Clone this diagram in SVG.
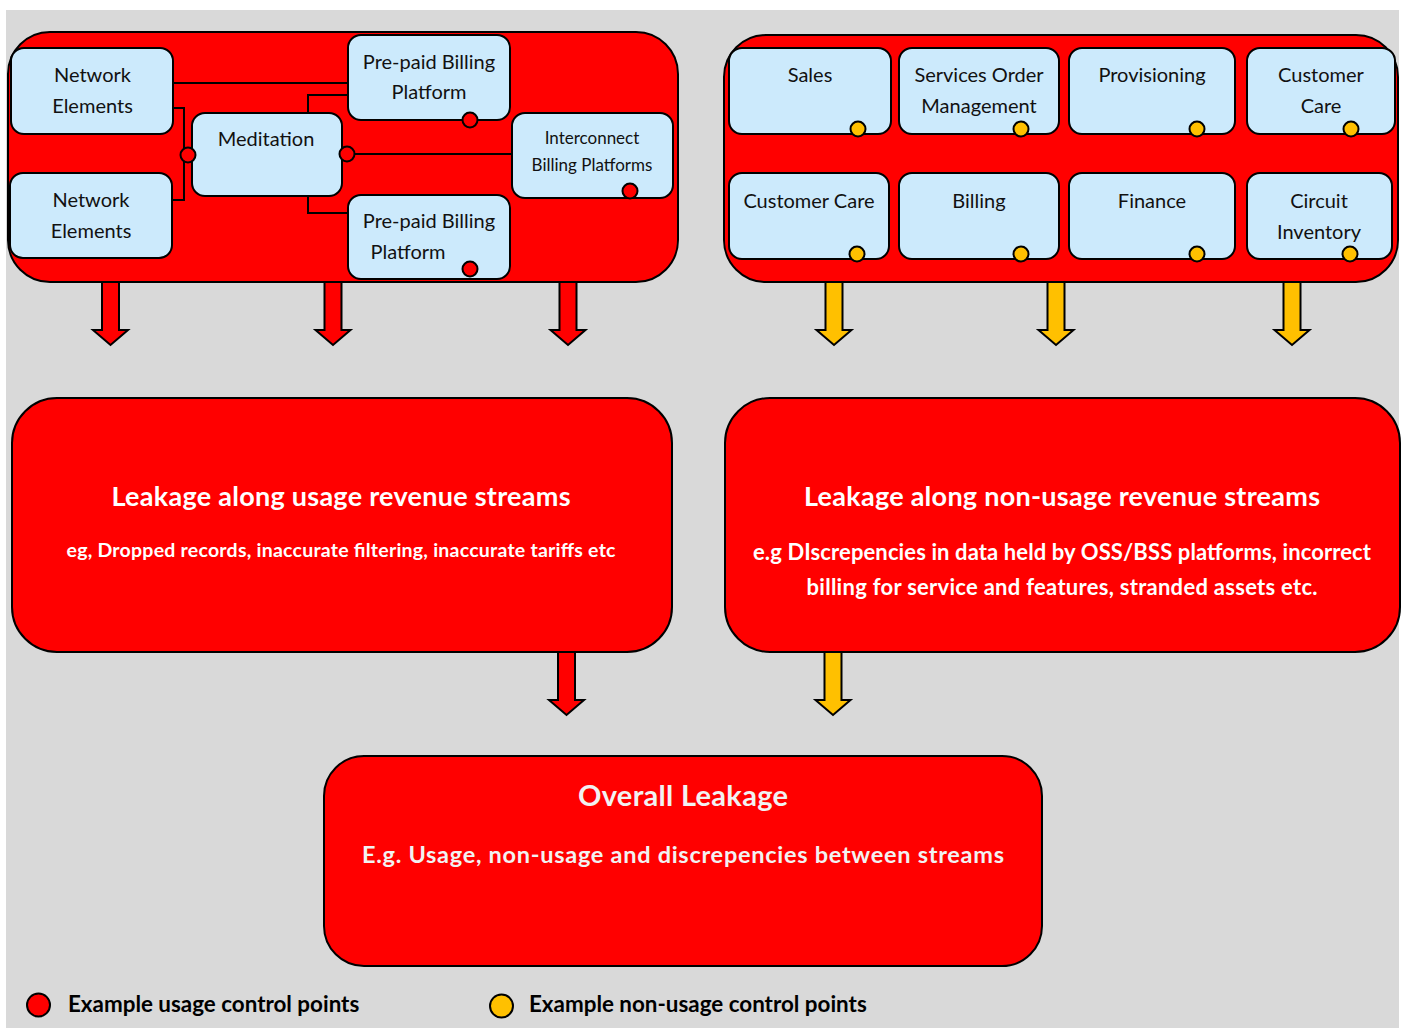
<svg xmlns="http://www.w3.org/2000/svg" width="1405" height="1028" viewBox="0 0 1405 1028">
<style>
.bg{fill:#d9d9d9}
.cont{fill:#ff0000;stroke:#000;stroke-width:2}
.node{fill:#cceafc;stroke:#000;stroke-width:2}
.big{fill:#ff0000;stroke:#000;stroke-width:2}
.ln{fill:none;stroke:#000;stroke-width:2}
.cr{fill:#ff0000;stroke:#000;stroke-width:2}
.cy{fill:#ffc000;stroke:#000;stroke-width:2}
.ar{fill:#ff0000;stroke:#000;stroke-width:2;stroke-linejoin:miter}
.ay{fill:#ffc000;stroke:#000;stroke-width:2;stroke-linejoin:miter}
.t{font-family:Lato,"Open Sans","Liberation Sans",sans-serif;font-size:20px;fill:#111;text-anchor:middle}
.ts{font-family:Lato,"Open Sans","Liberation Sans",sans-serif;font-size:17px;fill:#111;text-anchor:middle}
.h{font-family:Lato,"Open Sans","Liberation Sans",sans-serif;font-weight:bold;fill:#fff;text-anchor:middle}
.hg{fill:#f2f2f2}
.lg{font-family:Lato,"Open Sans","Liberation Sans",sans-serif;font-weight:bold;font-size:22.4px;fill:#000}
</style>
<defs>
<path id="arr" d="M-8.5,0 L8.5,0 L8.5,49 L17.5,49 L0,64 L-17.5,49 L-8.5,49 Z"/>
</defs>
<rect class="bg" x="6" y="10" width="1393" height="1018"/>

<g id="arrows">
<use href="#arr" class="ar" x="110.5" y="281"/>
<use href="#arr" class="ar" x="333" y="281"/>
<use href="#arr" class="ar" x="568" y="281"/>
<use href="#arr" class="ay" x="834" y="281"/>
<use href="#arr" class="ay" x="1056" y="281"/>
<use href="#arr" class="ay" x="1292" y="281"/>
<use href="#arr" class="ar" x="566.5" y="651"/>
<use href="#arr" class="ay" x="833" y="651"/>
</g>

<g id="usage-group">
<rect class="cont" x="8" y="32" width="670" height="250" rx="42"/>
</g>
<g id="nonusage-group">
<rect class="cont" x="724" y="35" width="674" height="247" rx="42"/>
</g>

<g id="connectors">
<path class="ln" d="M173,83 H348"/>
<path class="ln" d="M173,108 H184 V200 H172"/>
<path class="ln" d="M308,113 V95 H348"/>
<path class="ln" d="M308,196 V213 H348"/>
<path class="ln" d="M347,154 H512"/>
</g>

<g id="network-elements-1">
<rect class="node" x="11" y="48" width="162" height="86" rx="13"/>
<text class="t" x="92.5" y="82">Network</text>
<text class="t" x="92.5" y="113">Elements</text>
</g>
<g id="network-elements-2">
<rect class="node" x="10" y="173" width="162" height="85" rx="13"/>
<text class="t" x="91" y="207">Network</text>
<text class="t" x="91" y="238">Elements</text>
</g>
<g id="meditation">
<rect class="node" x="192" y="113" width="150" height="83" rx="13"/>
<text class="t" x="266" y="146">Meditation</text>
<circle class="cr" cx="188" cy="155" r="7.5"/>
<circle class="cr" cx="347" cy="154" r="7.5"/>
</g>
<g id="prepaid-1">
<rect class="node" x="348" y="35" width="162" height="85" rx="13"/>
<text class="t" x="429" y="69">Pre-paid Billing</text>
<text class="t" x="429" y="99">Platform</text>
<circle class="cr" cx="470" cy="120" r="7.5"/>
</g>
<g id="interconnect">
<rect class="node" x="512" y="113" width="161" height="85" rx="13"/>
<text class="ts" x="592" y="144">Interconnect</text>
<text class="ts" x="592" y="171">Billing Platforms</text>
<circle class="cr" cx="630" cy="191" r="7.5"/>
</g>
<g id="prepaid-2">
<rect class="node" x="348" y="195" width="162" height="84" rx="13"/>
<text class="t" x="429" y="228">Pre-paid Billing</text>
<text class="t" x="408" y="259">Platform</text>
<circle class="cr" cx="470" cy="269" r="7.5"/>
</g>

<g id="sales">
<rect class="node" x="729" y="48" width="162" height="86" rx="13"/>
<text class="t" x="810" y="82">Sales</text>
<circle class="cy" cx="858" cy="129" r="7.5"/>
</g>
<g id="services-order">
<rect class="node" x="899" y="48" width="160" height="86" rx="13"/>
<text class="t" x="979" y="82">Services Order</text>
<text class="t" x="979" y="113">Management</text>
<circle class="cy" cx="1021" cy="129" r="7.5"/>
</g>
<g id="provisioning">
<rect class="node" x="1069" y="48" width="166" height="86" rx="13"/>
<text class="t" x="1152" y="82">Provisioning</text>
<circle class="cy" cx="1197" cy="129" r="7.5"/>
</g>
<g id="customer-care-1">
<rect class="node" x="1247" y="48" width="148" height="86" rx="13"/>
<text class="t" x="1321" y="82">Customer</text>
<text class="t" x="1321" y="113">Care</text>
<circle class="cy" cx="1351" cy="129" r="7.5"/>
</g>
<g id="customer-care-2">
<rect class="node" x="729" y="173" width="160" height="86" rx="13"/>
<text class="t" x="809" y="208">Customer Care</text>
<circle class="cy" cx="857" cy="254" r="7.5"/>
</g>
<g id="billing">
<rect class="node" x="899" y="173" width="160" height="86" rx="13"/>
<text class="t" x="979" y="208">Billing</text>
<circle class="cy" cx="1021" cy="254" r="7.5"/>
</g>
<g id="finance">
<rect class="node" x="1069" y="173" width="166" height="86" rx="13"/>
<text class="t" x="1152" y="208">Finance</text>
<circle class="cy" cx="1197" cy="254" r="7.5"/>
</g>
<g id="circuit-inventory">
<rect class="node" x="1247" y="173" width="145" height="86" rx="13"/>
<text class="t" x="1319" y="208">Circuit</text>
<text class="t" x="1319" y="239">Inventory</text>
<circle class="cy" cx="1350" cy="254" r="7.5"/>
</g>

<g id="usage-leakage">
<rect class="big" x="12" y="398" width="660" height="254" rx="45"/>
<text class="h" x="341" y="506" font-size="27" textLength="459" lengthAdjust="spacing">Leakage along usage revenue streams</text>
<text class="h" x="341" y="557" font-size="19.5" textLength="549" lengthAdjust="spacing">eg, Dropped records, inaccurate filtering, inaccurate tariffs etc</text>
</g>
<g id="nonusage-leakage">
<rect class="big" x="725" y="398" width="675" height="254" rx="45"/>
<text class="h" x="1062" y="506" font-size="27" textLength="516" lengthAdjust="spacing">Leakage along non-usage revenue streams</text>
<text class="h" x="1062" y="560" font-size="22" textLength="618" lengthAdjust="spacing">e.g DIscrepencies in data held by OSS/BSS platforms, incorrect</text>
<text class="h" x="1062" y="595" font-size="22" textLength="511" lengthAdjust="spacing">billing for service and features, stranded assets etc.</text>
</g>
<g id="overall-leakage">
<rect class="big" x="324" y="756" width="718" height="210" rx="40"/>
<text class="h hg" x="683" y="806" font-size="29" textLength="210" lengthAdjust="spacing">Overall Leakage</text>
<text class="h hg" x="683" y="863" font-size="23.5" textLength="642" lengthAdjust="spacing">E.g. Usage, non-usage and discrepencies between streams</text>
</g>

<g id="legend">
<circle class="cr" cx="38.5" cy="1005" r="11.5"/>
<text class="lg" x="68" y="1012">Example usage control points</text>
<circle class="cy" cx="501.5" cy="1006" r="11.5"/>
<text class="lg" x="529" y="1012">Example non-usage control points</text>
</g>
</svg>
